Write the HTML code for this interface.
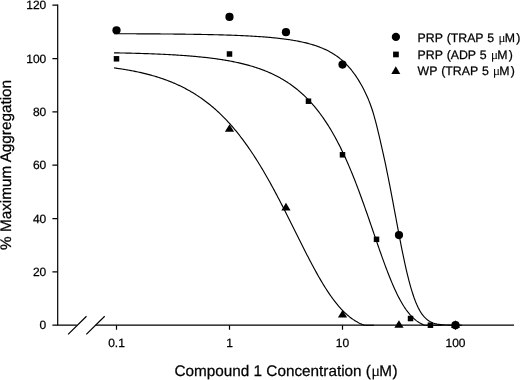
<!DOCTYPE html>
<html><head><meta charset="utf-8"><title>Aggregation chart</title>
<style>
html,body{margin:0;padding:0;background:#fff;}
svg{display:block;}
text{font-family:"Liberation Sans",sans-serif;fill:#000;text-rendering:geometricPrecision;stroke:#000;stroke-width:0.25px;}
</style></head><body>
<svg width="520" height="380" viewBox="0 0 520 380">
<rect width="520" height="380" fill="#fff"/>
<path d="M57.7,4.6 V325.2 M57.2,325.2 H76.8 M95.6,325.2 H514" stroke="#000" stroke-width="1.2" fill="none"/>
<path d="M68.1,334.4 L86.5,316.3 M86.3,334.4 L104.7,316.3" stroke="#000" stroke-width="1.2" fill="none"/>
<path d="M52.4,325.20 H57.7 M52.4,271.87 H57.7 M52.4,218.53 H57.7 M52.4,165.20 H57.7 M52.4,111.87 H57.7 M52.4,58.53 H57.7 M52.4,5.20 H57.7 M116.50,325.2 V329.7 M229.50,325.2 V329.7 M342.50,325.2 V329.7 M455.50,325.2 V329.7 " stroke="#000" stroke-width="1.2" fill="none"/>
<path d="M114.00,33.72 L115.00,33.72 L116.00,33.72 L117.00,33.73 L118.00,33.73 L119.00,33.73 L120.00,33.74 L121.00,33.74 L122.00,33.74 L123.00,33.75 L124.00,33.75 L125.00,33.75 L126.00,33.76 L127.00,33.76 L128.00,33.76 L129.00,33.77 L130.00,33.77 L131.00,33.78 L132.00,33.78 L133.00,33.78 L134.00,33.79 L135.00,33.79 L136.00,33.80 L137.00,33.80 L138.00,33.81 L139.00,33.81 L140.00,33.82 L141.00,33.82 L142.00,33.83 L143.00,33.83 L144.00,33.84 L145.00,33.84 L146.00,33.85 L147.00,33.85 L148.00,33.86 L149.00,33.87 L150.00,33.87 L151.00,33.88 L152.00,33.88 L153.00,33.89 L154.00,33.90 L155.00,33.90 L156.00,33.91 L157.00,33.92 L158.00,33.92 L159.00,33.93 L160.00,33.94 L161.00,33.95 L162.00,33.95 L163.00,33.96 L164.00,33.97 L165.00,33.98 L166.00,33.99 L167.00,34.00 L168.00,34.01 L169.00,34.01 L170.00,34.02 L171.00,34.03 L172.00,34.04 L173.00,34.05 L174.00,34.06 L175.00,34.07 L176.00,34.08 L177.00,34.09 L178.00,34.10 L179.00,34.12 L180.00,34.13 L181.00,34.14 L182.00,34.15 L183.00,34.16 L184.00,34.17 L185.00,34.19 L186.00,34.20 L187.00,34.21 L188.00,34.23 L189.00,34.24 L190.00,34.25 L191.00,34.27 L192.00,34.28 L193.00,34.30 L194.00,34.31 L195.00,34.33 L196.00,34.34 L197.00,34.36 L198.00,34.38 L199.00,34.39 L200.00,34.41 L201.00,34.43 L202.00,34.45 L203.00,34.47 L204.00,34.49 L205.00,34.51 L206.00,34.52 L207.00,34.55 L208.00,34.57 L209.00,34.59 L210.00,34.61 L211.00,34.63 L212.00,34.65 L213.00,34.68 L214.00,34.70 L215.00,34.72 L216.00,34.75 L217.00,34.77 L218.00,34.80 L219.00,34.83 L220.00,34.85 L221.00,34.88 L222.00,34.91 L223.00,34.94 L224.00,34.97 L225.00,35.00 L226.00,35.03 L227.00,35.06 L228.00,35.09 L229.00,35.13 L230.00,35.16 L231.00,35.19 L232.00,35.23 L233.00,35.27 L234.00,35.30 L235.00,35.34 L236.00,35.38 L237.00,35.42 L238.00,35.46 L239.00,35.50 L240.00,35.54 L241.00,35.59 L242.00,35.63 L243.00,35.68 L244.00,35.72 L245.00,35.77 L246.00,35.82 L247.00,35.87 L248.00,35.92 L249.00,35.98 L250.00,36.03 L251.00,36.08 L252.00,36.14 L253.00,36.20 L254.00,36.26 L255.00,36.32 L256.00,36.38 L257.00,36.45 L258.00,36.51 L259.00,36.58 L260.00,36.65 L261.00,36.72 L262.00,36.79 L263.00,36.86 L264.00,36.94 L265.00,37.02 L266.00,37.10 L267.00,37.18 L268.00,37.26 L269.00,37.35 L270.00,37.44 L271.00,37.53 L272.00,37.62 L273.00,37.72 L274.00,37.81 L275.00,37.91 L276.00,38.02 L277.00,38.12 L278.00,38.23 L279.00,38.34 L280.00,38.46 L281.00,38.58 L282.00,38.70 L283.00,38.82 L284.00,38.95 L285.00,39.08 L286.00,39.22 L287.00,39.36 L288.00,39.50 L289.00,39.65 L290.00,39.80 L291.00,39.95 L292.00,40.11 L293.00,40.28 L294.00,40.45 L295.00,40.62 L296.00,40.80 L297.00,40.98 L298.00,41.18 L299.00,41.37 L300.00,41.57 L301.00,41.78 L302.00,42.00 L303.00,42.22 L304.00,42.44 L305.00,42.68 L306.00,42.92 L307.00,43.17 L308.00,43.43 L309.00,43.69 L310.00,43.97 L311.00,44.25 L312.00,44.54 L313.00,44.85 L314.00,45.16 L315.00,45.48 L316.00,45.81 L317.00,46.16 L318.00,46.51 L319.00,46.88 L320.00,47.26 L321.01,47.66 L322.01,48.07 L323.01,48.49 L324.01,48.93 L325.01,49.38 L326.01,49.85 L327.01,50.33 L328.01,50.84 L329.01,51.36 L330.01,51.90 L331.01,52.46 L332.01,53.05 L333.01,53.65 L334.02,54.28 L335.02,54.93 L336.02,55.61 L337.02,56.31 L338.03,57.04 L339.03,57.80 L340.03,58.59 L341.04,59.41 L342.04,60.26 L343.05,61.15 L344.05,62.07 L345.06,63.04 L346.07,64.04 L347.08,65.08 L348.09,66.17 L349.10,67.30 L350.12,68.48 L351.14,69.71 L352.16,70.99 L353.18,72.32 L354.21,73.72 L355.24,75.17 L356.28,76.68 L357.32,78.26 L358.37,79.91 L359.42,81.63 L360.47,83.43 L361.54,85.30 L362.60,87.25 L363.67,89.29 L364.74,91.41 L365.81,93.63 L366.88,95.94 L367.93,98.35 L368.97,100.87 L370.00,103.49 L371.00,106.21 L371.97,109.06 L372.92,112.01 L373.85,115.09 L374.75,118.29 L375.64,121.61 L376.53,125.06 L377.41,128.64 L378.30,132.36 L379.21,136.20 L380.14,140.17 L381.08,144.28 L382.05,148.52 L383.03,152.88 L384.01,157.38 L385.01,161.99 L386.00,166.72 L387.00,171.56 L388.00,176.50 L389.00,181.54 L390.00,186.67 L391.00,191.87 L392.00,197.13 L393.00,202.44 L394.00,207.78 L395.00,213.14 L396.00,218.51 L397.00,223.86 L398.00,229.17 L399.00,234.44 L400.00,239.65 L401.00,244.77 L402.00,249.78 L403.00,254.68 L404.00,259.45 L405.00,264.07 L406.00,268.53 L407.00,272.82 L408.00,276.93 L409.00,280.85 L410.00,284.58 L411.00,288.10 L412.00,291.42 L413.00,294.54 L414.00,297.46 L415.00,300.18 L416.00,302.70 L417.00,305.03 L418.00,307.18 L419.00,309.15 L420.00,310.94 L421.00,312.58 L422.00,314.07 L423.00,315.41 L424.00,316.61 L425.00,317.70 L426.00,318.66 L427.00,319.52 L428.00,320.29 L429.00,320.96 L430.00,321.56 L431.00,322.08 L432.00,322.54 L433.00,322.93 L434.00,323.28 L435.00,323.58 L436.00,323.83 L437.00,324.06 L438.00,324.24 L439.00,324.40 L440.00,324.54 L441.00,324.65 L442.00,324.75 L443.00,324.83 L444.00,324.90 L445.00,324.96 L446.00,325.00 L447.00,325.04 L448.00,325.07 L449.00,325.10 L450.00,325.12 L451.00,325.14 L452.00,325.15 L453.00,325.16 L454.00,325.17 L455.00,325.18 L456.00,325.18 L457.00,325.19 L458.00,325.19 L459.00,325.19 L460.00,325.19 L461.00,325.20 L462.00,325.20" fill="none" stroke="#000" stroke-width="1.15" stroke-linejoin="round"/>
<path d="M114.00,52.84 L115.00,52.86 L116.00,52.88 L117.00,52.89 L118.00,52.91 L119.00,52.93 L120.00,52.95 L121.00,52.97 L122.00,52.99 L123.00,53.01 L124.00,53.03 L125.00,53.05 L126.00,53.08 L127.00,53.10 L128.00,53.12 L129.00,53.14 L130.00,53.17 L131.00,53.19 L132.00,53.22 L133.00,53.24 L134.00,53.27 L135.00,53.29 L136.00,53.32 L137.00,53.35 L138.00,53.38 L139.00,53.41 L140.00,53.43 L141.00,53.46 L142.00,53.49 L143.00,53.53 L144.00,53.56 L145.00,53.59 L146.00,53.62 L147.00,53.66 L148.00,53.69 L149.00,53.73 L150.00,53.76 L151.00,53.80 L152.00,53.84 L153.00,53.87 L154.00,53.91 L155.00,53.95 L156.00,53.99 L157.00,54.03 L158.00,54.08 L159.00,54.12 L160.00,54.16 L161.00,54.21 L162.00,54.25 L163.00,54.30 L164.00,54.35 L165.00,54.40 L166.00,54.45 L167.00,54.50 L168.00,54.55 L169.00,54.60 L170.00,54.66 L171.00,54.71 L172.00,54.77 L173.00,54.83 L174.00,54.88 L175.00,54.94 L176.00,55.01 L177.00,55.07 L178.00,55.13 L179.00,55.20 L180.00,55.26 L181.00,55.33 L182.00,55.40 L183.00,55.47 L184.00,55.54 L185.00,55.62 L186.00,55.69 L187.00,55.77 L188.00,55.85 L189.00,55.93 L190.00,56.01 L191.00,56.09 L192.00,56.18 L193.00,56.26 L194.00,56.35 L195.00,56.44 L196.00,56.53 L197.00,56.63 L198.00,56.72 L199.00,56.82 L200.00,56.92 L201.00,57.02 L202.00,57.12 L203.00,57.23 L204.00,57.33 L205.00,57.44 L206.00,57.55 L207.00,57.67 L208.00,57.78 L209.00,57.90 L210.00,58.02 L211.00,58.15 L212.00,58.27 L213.00,58.40 L214.00,58.53 L215.00,58.67 L216.00,58.80 L217.00,58.94 L218.00,59.08 L219.00,59.23 L220.00,59.38 L221.00,59.53 L222.00,59.68 L223.00,59.84 L224.00,60.00 L225.00,60.17 L226.00,60.33 L227.00,60.51 L228.00,60.68 L229.00,60.86 L230.00,61.04 L231.00,61.23 L232.00,61.42 L233.00,61.62 L234.00,61.82 L235.00,62.02 L236.00,62.23 L237.00,62.44 L238.00,62.66 L239.00,62.88 L240.00,63.11 L241.00,63.34 L242.00,63.58 L243.00,63.82 L244.00,64.07 L245.00,64.32 L246.00,64.58 L247.00,64.85 L248.00,65.12 L249.00,65.40 L250.00,65.68 L251.00,65.97 L252.00,66.26 L253.00,66.57 L254.00,66.87 L255.00,67.19 L256.00,67.51 L257.00,67.84 L258.00,68.18 L259.00,68.52 L260.00,68.88 L261.00,69.24 L262.00,69.61 L263.00,69.98 L264.00,70.37 L265.00,70.76 L266.00,71.16 L267.00,71.58 L268.00,72.00 L269.00,72.43 L270.00,72.87 L271.00,73.32 L272.00,73.78 L273.00,74.25 L274.00,74.73 L275.00,75.22 L276.00,75.72 L277.00,76.23 L278.00,76.76 L279.00,77.30 L280.00,77.85 L281.00,78.41 L282.00,78.98 L283.00,79.57 L284.00,80.17 L285.00,80.78 L286.00,81.41 L287.00,82.05 L288.00,82.71 L289.00,83.38 L290.00,84.07 L291.00,84.77 L292.00,85.48 L293.00,86.22 L294.00,86.97 L295.00,87.73 L296.00,88.51 L297.00,89.31 L298.00,90.13 L299.00,90.97 L300.00,91.82 L301.00,92.70 L302.00,93.59 L303.00,94.50 L304.00,95.44 L305.00,96.39 L306.00,97.37 L307.00,98.36 L308.00,99.38 L309.00,100.42 L310.00,101.49 L311.00,102.58 L312.00,103.69 L313.00,104.83 L314.00,105.99 L315.00,107.17 L316.00,108.39 L317.00,109.63 L318.00,110.89 L319.00,112.19 L320.00,113.51 L321.00,114.86 L322.00,116.24 L323.00,117.65 L324.00,119.09 L325.00,120.56 L326.00,122.06 L327.00,123.59 L328.00,125.16 L329.00,126.75 L330.00,128.38 L331.00,130.05 L332.00,131.75 L333.00,133.48 L334.00,135.24 L335.00,137.05 L336.00,138.89 L337.00,140.76 L338.00,142.67 L339.00,144.62 L340.00,146.60 L341.00,148.62 L342.00,150.68 L343.00,152.78 L344.00,154.91 L345.00,157.08 L346.00,159.29 L347.00,161.53 L348.00,163.82 L349.00,166.14 L350.00,168.50 L351.00,170.89 L352.00,173.32 L353.00,175.79 L354.00,178.29 L355.00,180.82 L356.00,183.39 L357.00,185.99 L358.00,188.63 L359.00,191.29 L360.00,193.99 L361.00,196.71 L362.00,199.46 L363.00,202.23 L364.00,205.03 L365.00,207.85 L366.00,210.69 L367.00,213.55 L368.00,216.43 L369.00,219.31 L370.00,222.21 L371.00,225.12 L372.00,228.03 L373.00,230.95 L374.00,233.87 L375.00,236.78 L376.00,239.69 L377.00,242.59 L378.00,245.48 L379.00,248.36 L380.00,251.21 L381.00,254.05 L382.00,256.86 L383.00,259.64 L384.00,262.39 L385.00,265.11 L386.00,267.79 L387.00,270.42 L388.00,273.02 L389.00,275.56 L390.00,278.06 L391.00,280.50 L392.00,282.89 L393.00,285.22 L394.00,287.49 L395.00,289.70 L396.00,291.84 L397.00,293.92 L398.00,295.94 L399.00,297.88 L400.00,299.75 L401.00,301.56 L402.00,303.29 L403.00,304.95 L404.00,306.55 L405.00,308.07 L406.00,309.52 L407.00,310.90 L408.00,312.21 L409.00,313.45 L410.00,314.62 L411.00,315.73 L412.00,316.78 L413.00,317.76 L414.00,318.68 L415.00,319.55 L416.00,320.35 L417.00,321.10 L418.00,321.80 L419.00,322.45 L420.00,323.05 L421.00,323.61 L422.00,324.12 L423.00,324.59 L424.00,325.02 L425.00,325.20 L426.00,325.20 L427.00,325.20 L428.00,325.20 L429.00,325.20 L430.00,325.20 L431.00,325.20 L432.00,325.20 L433.00,325.20 L434.00,325.20 L435.00,325.20 L436.00,325.20 L437.00,325.20 L438.00,325.20 L439.00,325.20 L440.00,325.20 L441.00,325.20 L442.00,325.20" fill="none" stroke="#000" stroke-width="1.15" stroke-linejoin="round"/>
<path d="M114.00,67.89 L115.00,68.03 L116.00,68.17 L117.00,68.31 L118.00,68.45 L119.00,68.60 L120.00,68.74 L121.00,68.90 L122.00,69.05 L123.00,69.21 L124.00,69.37 L125.00,69.54 L126.00,69.70 L127.00,69.87 L128.00,70.05 L129.00,70.23 L130.00,70.41 L131.00,70.59 L132.00,70.78 L133.00,70.97 L134.00,71.17 L135.00,71.37 L136.00,71.58 L137.00,71.78 L138.00,72.00 L139.00,72.21 L140.00,72.43 L141.00,72.66 L142.00,72.89 L143.00,73.12 L144.00,73.36 L145.00,73.60 L146.00,73.85 L147.00,74.10 L148.00,74.36 L149.00,74.63 L150.00,74.89 L151.00,75.17 L152.00,75.45 L153.00,75.73 L154.00,76.02 L155.00,76.31 L156.00,76.62 L157.00,76.92 L158.00,77.24 L159.00,77.55 L160.00,77.88 L161.00,78.21 L162.00,78.55 L163.00,78.89 L164.00,79.24 L165.00,79.60 L166.00,79.96 L167.00,80.33 L168.00,80.71 L169.00,81.10 L170.00,81.49 L171.00,81.89 L172.00,82.30 L173.00,82.71 L174.00,83.14 L175.00,83.57 L176.00,84.01 L177.00,84.46 L178.00,84.91 L179.00,85.38 L180.00,85.85 L181.00,86.33 L182.00,86.82 L183.00,87.32 L184.00,87.83 L185.00,88.35 L186.00,88.88 L187.00,89.41 L188.00,89.96 L189.00,90.52 L190.00,91.09 L191.00,91.66 L192.00,92.25 L193.00,92.85 L194.00,93.46 L195.00,94.08 L196.00,94.71 L197.00,95.36 L198.00,96.01 L199.00,96.68 L200.00,97.36 L201.00,98.05 L202.00,98.75 L203.00,99.46 L204.00,100.19 L205.00,100.93 L206.00,101.68 L207.00,102.44 L208.00,103.22 L209.00,104.01 L210.00,104.82 L211.00,105.64 L212.00,106.47 L213.00,107.31 L214.00,108.17 L215.00,109.05 L216.00,109.94 L217.00,110.84 L218.00,111.76 L219.00,112.69 L220.00,113.64 L221.00,114.60 L222.00,115.58 L223.00,116.58 L224.00,117.59 L225.00,118.61 L226.00,119.65 L227.00,120.71 L228.00,121.79 L229.00,122.88 L230.00,123.98 L231.00,125.11 L232.00,126.25 L233.00,127.41 L234.00,128.58 L235.00,129.77 L236.00,130.98 L237.00,132.21 L238.00,133.45 L239.00,134.71 L240.00,135.99 L241.00,137.29 L242.00,138.60 L243.00,139.94 L244.00,141.29 L245.00,142.65 L246.00,144.04 L247.00,145.44 L248.00,146.87 L249.00,148.31 L250.00,149.76 L251.00,151.24 L252.00,152.73 L253.00,154.24 L254.00,155.77 L255.00,157.32 L256.00,158.88 L257.00,160.47 L258.00,162.07 L259.00,163.68 L260.00,165.32 L261.00,166.97 L262.00,168.64 L263.00,170.32 L264.00,172.02 L265.00,173.74 L266.00,175.47 L267.00,177.22 L268.00,178.99 L269.00,180.77 L270.00,182.56 L271.00,184.37 L272.00,186.20 L273.00,188.03 L274.00,189.89 L275.00,191.75 L276.00,193.63 L277.00,195.52 L278.00,197.42 L279.00,199.33 L280.00,201.26 L281.00,203.19 L282.00,205.13 L283.00,207.09 L284.00,209.05 L285.00,211.02 L286.00,213.00 L287.00,214.98 L288.00,216.97 L289.00,218.96 L290.00,220.96 L291.00,222.97 L292.00,224.97 L293.00,226.98 L294.00,229.00 L295.00,231.01 L296.00,233.02 L297.00,235.03 L298.00,237.04 L299.00,239.04 L300.00,241.05 L301.00,243.05 L302.00,245.04 L303.00,247.03 L304.00,249.01 L305.00,250.98 L306.00,252.94 L307.00,254.89 L308.00,256.83 L309.00,258.76 L310.00,260.68 L311.00,262.58 L312.00,264.47 L313.00,266.34 L314.00,268.19 L315.00,270.03 L316.00,271.85 L317.00,273.65 L318.00,275.42 L319.00,277.18 L320.00,278.91 L321.00,280.62 L322.00,282.31 L323.00,283.97 L324.00,285.60 L325.00,287.21 L326.00,288.79 L327.00,290.35 L328.00,291.87 L329.00,293.36 L330.00,294.83 L331.00,296.26 L332.00,297.66 L333.00,299.03 L334.00,300.37 L335.00,301.67 L336.00,302.95 L337.00,304.18 L338.00,305.39 L339.00,306.56 L340.00,307.70 L341.00,308.80 L342.00,309.87 L343.00,310.90 L344.00,311.90 L345.00,312.86 L346.00,313.79 L347.00,314.69 L348.00,315.55 L349.00,316.38 L350.00,317.18 L351.00,317.94 L352.00,318.67 L353.00,319.37 L354.00,320.03 L355.00,320.67 L356.00,321.28 L357.00,321.85 L358.00,322.40 L359.00,322.92 L360.00,323.41 L361.00,323.87 L362.00,324.31 L363.00,324.72 L364.00,325.11 L365.00,325.20 L366.00,325.20 L367.00,325.20 L368.00,325.20 L369.00,325.20 L370.00,325.20 L371.00,325.20 L372.00,325.20 L373.00,325.20 L374.00,325.20" fill="none" stroke="#000" stroke-width="1.15" stroke-linejoin="round"/>
<path d="M224.90,131.87 L234.10,131.87 L229.50,124.27 Z" fill="#000"/>
<path d="M281.36,210.40 L290.56,210.40 L285.96,202.80 Z" fill="#000"/>
<path d="M337.90,317.60 L347.10,317.60 L342.50,310.00 Z" fill="#000"/>
<path d="M394.36,327.73 L403.56,327.73 L398.96,320.13 Z" fill="#000"/>
<path d="M450.90,327.73 L460.10,327.73 L455.50,320.13 Z" fill="#000"/>
<rect x="113.75" y="56.05" width="5.5" height="5.5" fill="#000"/>
<rect x="226.75" y="51.25" width="5.5" height="5.5" fill="#000"/>
<rect x="305.73" y="98.45" width="5.5" height="5.5" fill="#000"/>
<rect x="339.75" y="152.05" width="5.5" height="5.5" fill="#000"/>
<rect x="373.77" y="236.58" width="5.5" height="5.5" fill="#000"/>
<rect x="407.78" y="315.78" width="5.5" height="5.5" fill="#000"/>
<rect x="427.68" y="322.45" width="5.5" height="5.5" fill="#000"/>
<rect x="452.75" y="322.45" width="5.5" height="5.5" fill="#000"/>
<circle cx="116.50" cy="30.27" r="4.1" fill="#000"/>
<circle cx="229.50" cy="16.93" r="4.1" fill="#000"/>
<circle cx="285.96" cy="32.13" r="4.1" fill="#000"/>
<circle cx="342.50" cy="64.53" r="4.1" fill="#000"/>
<circle cx="398.96" cy="235.07" r="4.1" fill="#000"/>
<circle cx="455.50" cy="325.20" r="4.1" fill="#000"/>
<circle cx="395.9" cy="36.9" r="4.15" fill="#000"/>
<rect x="393.1" y="51.6" width="5.7" height="5.7" fill="#000"/>
<path d="M391.30,73.88 L400.30,73.88 L395.80,66.28 Z" fill="#000"/>
<text x="46.3" y="329.30" text-anchor="end" font-size="12">0</text>
<text x="46.3" y="275.97" text-anchor="end" font-size="12">20</text>
<text x="46.3" y="222.63" text-anchor="end" font-size="12">40</text>
<text x="46.3" y="169.30" text-anchor="end" font-size="12">60</text>
<text x="46.3" y="115.97" text-anchor="end" font-size="12">80</text>
<text x="46.3" y="62.63" text-anchor="end" font-size="12">100</text>
<text x="46.3" y="9.30" text-anchor="end" font-size="12">120</text>
<text x="116.50" y="347.3" text-anchor="middle" font-size="12">0.1</text>
<text x="229.50" y="347.3" text-anchor="middle" font-size="12">1</text>
<text x="342.50" y="347.3" text-anchor="middle" font-size="12">10</text>
<text x="455.50" y="347.3" text-anchor="middle" font-size="12">100</text>
<text x="174.5" y="376.0" font-size="15.3">Compound 1 Concentration (<tspan dx="0.2" font-family="Liberation Serif, serif" stroke="none" font-size="16.6">μ</tspan><tspan dx="-0.7">M</tspan><tspan dx="0.5">)</tspan></text>
<text transform="translate(11.1,164.9) rotate(-90)" text-anchor="middle" font-size="15.3">% Maximum Aggregation</text>
<text x="417.6" y="41.5" font-size="12.3" word-spacing="0.6">PRP (TRAP 5 <tspan dx="0.2" font-family="Liberation Serif, serif" stroke="none" font-size="13">μ</tspan><tspan dx="-0.6">M</tspan><tspan dx="1.2">)</tspan></text>
<text x="417.6" y="58.6" font-size="12.3" word-spacing="0.6">PRP (ADP 5 <tspan dx="0.2" font-family="Liberation Serif, serif" stroke="none" font-size="13">μ</tspan><tspan dx="-0.6">M</tspan><tspan dx="1.2">)</tspan></text>
<text x="417.6" y="75.4" font-size="12.3" word-spacing="0.6">WP (TRAP 5 <tspan dx="0.2" font-family="Liberation Serif, serif" stroke="none" font-size="13">μ</tspan><tspan dx="-0.6">M</tspan><tspan dx="1.2">)</tspan></text>
</svg>
</body></html>
